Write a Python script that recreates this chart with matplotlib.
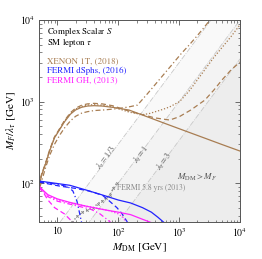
import numpy as np
import matplotlib
matplotlib.use('Agg')
import matplotlib.pyplot as plt

plt.rcParams['font.family'] = 'STIXGeneral'
plt.rcParams['mathtext.fontset'] = 'stix'

###################################
#     Data ###
###################################

# XENON 1T (2018), four variants
xe_solid_x = [5.0, 5.5, 6.3, 7.5, 9, 10.8, 13, 16.4, 20, 25, 31, 40, 55, 80, 150, 300, 600, 1150, 2500, 5000, 10000]
xe_solid_y = [90, 125, 166, 250, 360, 447, 560, 700, 790, 850, 880, 890, 880, 850, 787, 650, 535, 447, 361, 298, 247]

xe_dash_x = [5.0, 5.5, 6.3, 7.5, 9, 10.8, 13, 16.4, 20, 25, 31, 40, 55, 80, 153, 250, 400, 701, 1000, 1555, 2650, 3720, 5050, 7110, 10000]
xe_dash_y = [92, 128, 170, 258, 370, 460, 580, 730, 830, 900, 935, 950, 935, 890, 760, 690, 630, 593, 650, 787, 1043, 1383, 1837, 2437, 3055]

xe_dot_x = [5.0, 5.5, 6.3, 7.5, 9, 10.8, 13, 16.4, 20, 25, 31, 40, 55, 80, 153, 252, 330, 537, 701, 1020, 1500, 2030, 3720, 7110, 10000]
xe_dot_y = [91, 126, 168, 254, 365, 452, 570, 715, 810, 870, 905, 915, 900, 860, 740, 690, 715, 800, 860, 1000, 1380, 1880, 3480, 6250, 8750]

xe_dashdot_x = [5.2, 5.8, 6.5, 7.5, 9, 11, 13, 16.4, 20, 25, 31, 40, 60, 100, 150, 207, 300, 500, 750, 1070, 1500, 2030, 2600, 3200]
xe_dashdot_y = [90, 120, 160, 220, 300, 390, 470, 580, 660, 720, 750, 775, 790, 820, 860, 905, 1240, 1950, 2790, 3830, 5040, 6550, 8190, 9980]

# FERMI dSphs (2016)
ds_solid_x = [5, 8, 16, 30, 60, 100, 160, 250, 350, 450, 560]
ds_solid_y = [106, 101, 94, 82, 70, 62, 57, 50, 44, 38, 33]
ds_dash_x = [5, 10.8, 20, 33, 55, 72, 95, 113, 142]
ds_dash_y = [103, 92, 86, 80, 71, 60, 50, 43, 33]
ds_dashdot_x = [5, 8, 12, 15, 18, 21, 25]
ds_dashdot_y = [104, 99, 94, 90, 80, 60, 33]

# FERMI GH (2013)
gh_solid_x = [5, 6, 7, 10, 16, 30, 60, 100, 160, 250, 340]
gh_solid_y = [92, 80, 72, 64, 58, 52, 47, 44, 41, 36, 33]
gh_dot_x = [5, 7, 10, 20, 40, 70, 100, 120, 135]
gh_dot_y = [90, 70, 62, 55, 50, 46, 42, 38, 33]
gh_dashdot_x = [5, 7, 10, 20, 35, 50, 65, 75]
gh_dashdot_y = [89, 68, 60, 53, 48, 42, 36, 33]
gh_dash_x = [5, 6, 7, 9, 13, 18]
gh_dash_y = [88, 75, 62, 50, 42, 33]

# FERMI 5.8 yrs (2013)
f58_x = [17.6, 21, 25.8, 31, 37.8, 46, 55, 64, 72, 83, 94]
f58_y = [33, 39, 44, 47, 49, 56, 61, 66, 71, 86, 100]

# lambda lines: M_F/lambda = M_DM/lambda
lambdas = [1/3, 1, 3]
lambda_labels = [r'$\lambda_\tau = 1/3$', r'$\lambda_\tau = 1$', r'$\lambda_\tau = 3$']
lambda_label_pos = [(64, 205), (243, 222), (580, 182)]

brown = '#a87d52'
blue = '#2222ff'
magenta = '#ff22ff'

###################################
#     Plot                      ###
###################################

fig = plt.figure(figsize=(2.62, 2.59), dpi=100)
ax = fig.add_axes([0.1489, 0.1429, 0.7672, 0.7799])

xmin, xmax = 5, 1e4
ymin, ymax = 100 / 3, 1e4
xx = np.logspace(np.log10(xmin), np.log10(xmax), 200)

for lam in lambdas:
    line = xx / lam
    ax.fill_between(xx, ymin, line, color='k', alpha=0.024, lw=0, zorder=0)
    ax.plot(xx, line, color='#c8c8c8', ls='-.', lw=0.6, zorder=1)

for (lx, ly), lab in zip(lambda_label_pos, lambda_labels):
    ax.text(lx, ly, lab, fontsize=6, color='#555555', rotation=53,
            ha='center', va='center', rotation_mode='anchor')

ax.text(341, 87, 'FERMI 5.8 yrs (2013)', fontsize=5.5, color='#8a8a8a', ha='center', va='center')
ax.text(2000, 119, r'$M_{\rm DM} > M_F$', fontsize=6.5, color='#555555', ha='center', va='center')

ax.plot(f58_x, f58_y, color='#8a8a8a', ls=':', lw=1.0, marker='x', ms=1.8, mew=0.6, zorder=2)

ax.plot(xe_solid_x, xe_solid_y, color=brown, lw=0.9)
ax.plot(xe_dash_x, xe_dash_y, color=brown, lw=0.9, ls=(0, (4, 2.5)))
ax.plot(xe_dot_x, xe_dot_y, color=brown, lw=0.9, ls=(0, (1, 1.5)))
ax.plot(xe_dashdot_x, xe_dashdot_y, color=brown, lw=0.9, ls=(0, (4, 2, 1, 2)))

ax.plot(ds_solid_x, ds_solid_y, color=blue, lw=0.9)
ax.plot(ds_dash_x, ds_dash_y, color=blue, lw=0.9, ls=(0, (4, 2.5)))
ax.plot(ds_dashdot_x, ds_dashdot_y, color=blue, lw=0.9, ls=(0, (4, 2, 1, 2)))

ax.plot(gh_solid_x, gh_solid_y, color=magenta, lw=0.9)
ax.plot(gh_dot_x, gh_dot_y, color=magenta, lw=0.9, ls=(0, (1, 1.5)))
ax.plot(gh_dashdot_x, gh_dashdot_y, color=magenta, lw=0.9, ls=(0, (4, 2, 1, 2)))
ax.plot(gh_dash_x, gh_dash_y, color=magenta, lw=0.9, ls=(0, (4, 2.5)))

ax.set_xscale('log')
ax.set_yscale('log')
ax.set_xlim(xmin, xmax)
ax.set_ylim(ymin, ymax)
ax.set_xticks([10, 100, 1000, 10000])
ax.set_xticklabels(['10', r'$10^2$', r'$10^3$', r'$10^4$'])
ax.set_yticks([100, 1000, 10000])
ax.set_yticklabels([r'$10^2$', r'$10^3$', r'$10^4$'])
ax.tick_params(which='both', direction='in', top=True, right=True, labelsize=7, color='#555555', pad=3)
ax.tick_params(which='major', length=3.5, width=0.6)
ax.tick_params(which='minor', length=1.8, width=0.5)
for s in ax.spines.values():
    s.set_color('#555555')
    s.set_linewidth(0.7)

ax.set_xlabel(r'$M_{\rm DM}$ [GeV]', fontsize=8, labelpad=2)
ax.set_ylabel(r'$M_F/\lambda_\tau$ [GeV]', fontsize=8, labelpad=1)

ax.text(0.04, 0.94, r'Complex Scalar $S$', transform=ax.transAxes, fontsize=6.4, va='center')
ax.text(0.04, 0.887, r'SM lepton $\tau$', transform=ax.transAxes, fontsize=6.4, va='center')
ax.text(0.04, 0.797, 'XENON 1T, (2018)', transform=ax.transAxes, fontsize=6.4, va='center', color=brown)
ax.text(0.04, 0.750, 'FERMI dSphs, (2016)', transform=ax.transAxes, fontsize=6.4, va='center', color=blue)
ax.text(0.04, 0.703, 'FERMI GH, (2013)', transform=ax.transAxes, fontsize=6.4, va='center', color=magenta)

fig.savefig('out.png', dpi=100)
